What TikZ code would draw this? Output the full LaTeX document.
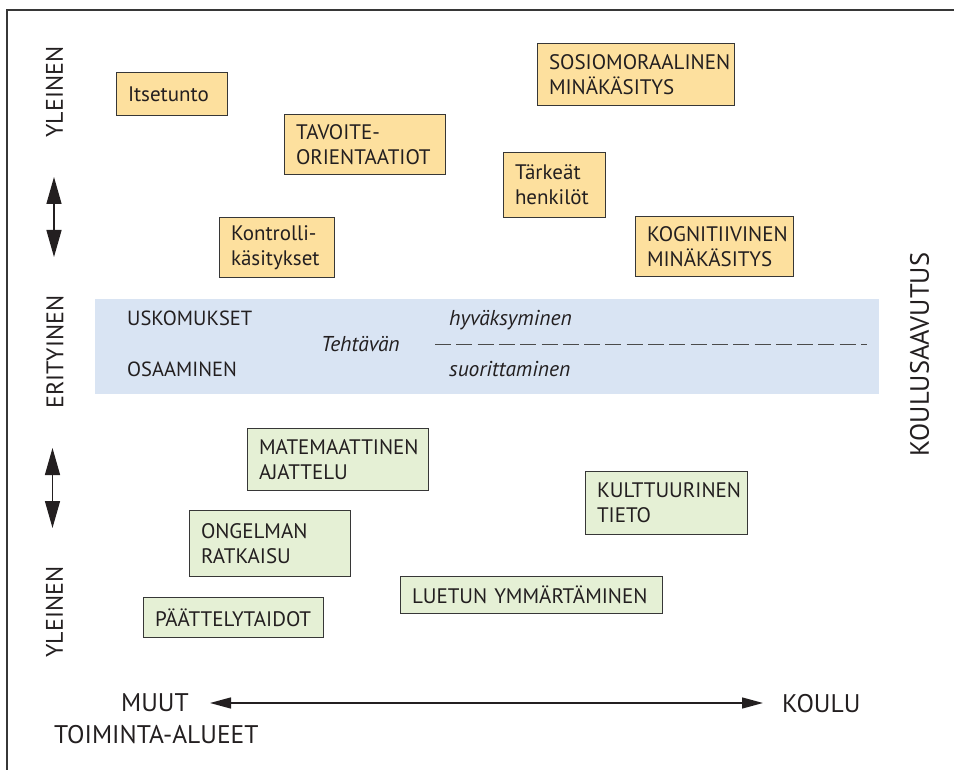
\documentclass[tikz,border=0pt]{standalone}
\usepackage{fontspec}
\setmainfont{PT Sans}
\usetikzlibrary{arrows.meta}
\definecolor{orangefill}{RGB}{253,224,158}
\definecolor{greenfill}{RGB}{229,240,213}
\definecolor{bandblue}{RGB}{217,228,243}
\definecolor{edgegray}{RGB}{55,55,55}
\definecolor{inkcol}{RGB}{35,31,32}
\newcommand\boxfont{\fontsize{21}{25}\selectfont}
\newcommand\bandfont{\fontsize{20.5}{24}\selectfont}
\newcommand\bandit{\fontsize{21.5}{24}\selectfont\itshape}
\newcommand\axisfont{\fontsize{25.5}{30}\selectfont}
\newcommand\vaxisfont{\fontsize{24}{30}\selectfont}
\begin{document}
\begin{tikzpicture}[x=1pt,y=-1pt,
  every node/.style={text=inkcol},
  obox/.style={draw=edgegray, line width=1pt, fill=orangefill, anchor=north west,
    align=left, inner xsep=11.5pt, inner ysep=0pt, font=\boxfont},
  gbox/.style={obox, fill=greenfill},
  lbl/.style={anchor=base west, inner sep=0pt, font=\bandfont},
  itlbl/.style={lbl, font=\bandit},
  axlbl/.style={anchor=base west, inner sep=0pt, font=\axisfont},
  vlbl/.style={rotate=90, inner sep=0pt, font=\vaxisfont},
  varrow/.style={line width=1.5pt, draw=inkcol,
    {Triangle[length=27pt,width=15pt]}-{Triangle[length=27pt,width=15pt]}},
  harrow/.style={line width=1.4pt, draw=inkcol,
    {Triangle[length=21pt,width=11pt]}-{Triangle[length=21pt,width=11pt]}}]
\useasboundingbox (0,0) rectangle (954,770);
% frame
\coordinate (fbl) at (7,771);
\coordinate (ftl) at (7,10);
\coordinate (ftr) at (955,10);
\draw[line width=1.6pt, draw=edgegray] (fbl) -- (ftl) -- (ftr);

% blue band
\node[fill=bandblue, minimum width=784pt, minimum height=95pt, anchor=north west, inner sep=0pt] (band) at (95,299) {};
\node[lbl] (usk) at (127,326) {USKOMUKSET};
\node[lbl] (osa) at (127,377) {OSAAMINEN};
\node[itlbl] (teht) at (321,352) {Tehtävän};
\node[itlbl] (hyv) at (449,326) {hyväksyminen};
\node[itlbl] (suo) at (449,377) {suorittaminen};
\coordinate (d1) at (435,344.5);
\coordinate (d2) at (867,344.5);
\draw[line width=1.3pt, draw=edgegray!90, dash pattern=on 16pt off 5.3pt] (d1) -- (d2);

% orange boxes
\node[obox, text width=88pt, minimum height=43pt] (itse) at (116,72) {Itsetunto};
\node[obox, text width=138pt, minimum height=60pt] (tavo) at (284,114) {TAVOITE-\\ORIENTAATIOT};
\node[obox, text width=92pt, minimum height=60pt] (kontr) at (219,217) {Kontrolli-\\käsitykset};
\node[obox, text width=174pt, minimum height=62pt] (sosio) at (537,43) {SOSIOMORAALINEN\\MINÄKÄSITYS};
\node[obox, text width=79pt, minimum height=65pt] (tark) at (503,152) {Tärkeät\\henkilöt};
\node[obox, text width=135pt, minimum height=60pt] (kogn) at (635,216) {KOGNITIIVINEN\\MINÄKÄSITYS};

% green boxes
\node[gbox, text width=158pt, minimum height=62pt] (mate) at (247,428) {MATEMAATTINEN\\AJATTELU};
\node[gbox, text width=138pt, minimum height=66pt] (onge) at (189,510) {ONGELMAN\\RATKAISU};
\node[gbox, text width=157pt, minimum height=40pt] (paat) at (143,597) {PÄÄTTELYTAIDOT};
\node[gbox, text width=239pt, minimum height=37pt] (luet) at (400,576) {LUETUN YMMÄRTÄMINEN};
\node[gbox, text width=139pt, minimum height=63pt] (kult) at (585,471) {KULTTUURINEN\\TIETO};

% vertical axis labels
\node[vlbl] (yl1) at (54.5,92) {YLEINEN};
\node[vlbl] (eri) at (55,352) {ERITYINEN};
\node[vlbl] (yl2) at (54.5,612) {YLEINEN};
\node[vlbl, font=\fontsize{26.5}{30}\selectfont] (kou) at (919.5,354.5) {KOULUSAAVUTUS};

% vertical arrows
\coordinate (a1t) at (54,177);
\coordinate (a1b) at (54,257);
\draw[varrow] (a1t) -- (a1b);
\coordinate (a2t) at (52.5,448);
\coordinate (a2b) at (52.5,528);
\draw[varrow] (a2t) -- (a2b);

% horizontal axis
\node[axlbl] (muut) at (121,711) {MUUT};
\node[axlbl] (toim) at (54,743) {TOIMINTA-ALUEET};
\node[axlbl] (koulu) at (782,712) {KOULU};
\coordinate (hl) at (210,703);
\coordinate (hr) at (763,703);
\draw[harrow] (hl) -- (hr);
\end{tikzpicture}
\end{document}
